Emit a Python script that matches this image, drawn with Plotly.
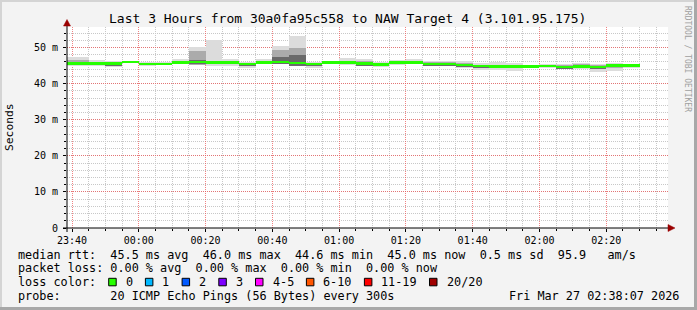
import plotly.graph_objects as go
import pandas as pd

# ---------------- data ----------------
step_end = pd.date_range("2026-03-26 23:40", "2026-03-27 02:30", freq="5min")  # 35 steps

median_ms = [45.6, 45.6, 45.6, 45.6, 46.0, 45.4, 45.4, 45.8, 45.9, 45.8, 45.8, 45.4,
             45.8, 46.0, 45.7, 45.4, 45.8, 45.8, 45.6, 45.3, 45.8, 45.8, 45.5, 45.5,
             45.1, 44.8, 44.7, 44.7, 44.7, 44.9, 44.6, 44.7, 44.6, 45.0, 45.0]
ping_max = [47.4, 47.4, 46.6, 46.3, 46.3, 46.1, 45.9, 46.8, 50.1, 52.2, 46.9, 45.9,
            46.8, 50.3, 53.1, 45.9, 46.2, 47.1, 46.9, 46.0, 46.6, 46.9, 46.2, 46.2,
            46.2, 45.7, 46.0, 45.7, 45.2, 45.4, 45.5, 45.6, 45.5, 45.6, 45.5]
ping_min = [45.0, 45.0, 45.0, 44.5, 45.7, 45.0, 45.1, 45.3, 45.3, 45.0, 45.0, 44.3,
            45.3, 45.4, 45.0, 44.3, 45.3, 45.2, 45.0, 44.7, 45.2, 45.3, 45.0, 44.9,
            44.2, 43.7, 43.9, 43.4, 44.3, 44.4, 44.0, 44.1, 43.2, 43.4, 44.3]
mid_hi = [46.6, 46.6, 46.1, 46.0, 46.1, 45.8, 45.6, 46.3, 48.9, 46.4, 46.3, 45.7,
          46.3, 49.2, 49.9, 45.7, 46.0, 46.3, 46.2, 45.7, 46.2, 46.3, 45.9, 45.9,
          45.6, 45.2, 45.2, 45.1, 45.0, 45.2, 45.1, 45.3, 45.1, 45.3, 45.3]
mid_lo = [45.3, 45.3, 45.3, 44.8, 45.8, 45.2, 45.2, 45.5, 45.2, 45.4, 45.4, 44.9,
          45.5, 45.6, 45.0, 44.9, 45.5, 45.5, 45.0, 45.0, 45.5, 45.5, 45.0, 45.0,
          44.7, 44.3, 44.2, 44.2, 44.5, 44.6, 44.1, 44.4, 44.0, 44.3, 44.7]
inner_hi = [45.8, 45.8, 45.8, 45.8, 46.1, 45.6, 45.5, 46.0, 46.6, 46.0, 46.0, 45.6,
            46.0, 47.5, 47.8, 45.6, 45.9, 46.0, 45.8, 45.5, 46.0, 46.0, 45.7, 45.7,
            45.3, 45.0, 44.9, 44.9, 44.8, 45.0, 44.8, 45.2, 44.8, 45.1, 45.1]
inner_lo = [45.3, 45.3, 45.4, 44.9, 45.8, 45.2, 45.2, 45.5, 45.3, 45.5, 45.5, 45.1,
            45.5, 45.5, 45.0, 45.1, 45.5, 45.5, 45.0, 45.1, 45.5, 45.5, 45.0, 45.0,
            44.8, 44.5, 44.2, 44.4, 44.4, 44.6, 44.1, 44.4, 44.3, 44.7, 44.7]

y_tickvals = [0, 10, 20, 30, 40, 50]
y_ticktext = ["0", "10 m", "20 m", "30 m", "40 m", "50 m"]

title_text = "Last 3 Hours from 30a0fa95c558 to NAW Target 4 (3.101.95.175)"
legend_rows = [
    "median rtt:  45.5 ms avg  46.0 ms max  44.6 ms min  45.0 ms now  0.5 ms sd  95.9   am/s",
    "packet loss: 0.00 % avg  0.00 % max  0.00 % min  0.00 % now",
    "loss color:",
    "probe:       20 ICMP Echo Pings (56 Bytes) every 300s",
]
date_stamp = "Fri Mar 27 02:38:07 2026"
loss_labels = ["0", "1", "2", "3", "4-5", "6-10", "11-19", "20/20"]
loss_colors = ["#26ff00", "#00b8ff", "#0059ff", "#7e00ff", "#ff00ff", "#ff5500", "#ff0000", "#a00000"]

# ---------------- layout geometry ----------------
W, H = 697, 310
PX0, PX1, PY0, PY1 = 67, 668, 27, 228
MONO = "DejaVu Sans Mono"


def px(x):
    return (x - PX0) / (PX1 - PX0)


def py(y):
    return (PY1 - y) / (PY1 - PY0)


x_centers = step_end - pd.Timedelta(seconds=150)
step_w = 300000

fig = go.Figure()


def band(lo, hi, color):
    fig.add_trace(go.Bar(
        x=x_centers, base=lo, y=[h - l for h, l in zip(hi, lo)], width=step_w,
        marker=dict(color=color, line=dict(width=0)), showlegend=False, hoverinfo="skip"))


band(ping_min, ping_max, "#dcdcdc")
band(mid_lo, mid_hi, "#ababab")
band(inner_lo, inner_hi, "#6a6a6a")
thick = 0.65
fig.add_trace(go.Bar(
    x=x_centers, base=[m - thick / 2 for m in median_ms], y=[thick] * len(median_ms), width=step_w,
    marker=dict(color=loss_colors[0], line=dict(width=0)), showlegend=False, hoverinfo="skip"))

ymax = (PY1 - PY0) / 3.61

fig.update_layout(
    width=W, height=H, barmode="overlay", bargap=0,
    margin=dict(l=PX0, r=W - PX1, t=PY0, b=H - PY1, pad=0),
    paper_bgcolor="#f3f3f3", plot_bgcolor="#ffffff",
    font=dict(family=MONO, size=10, color="#000000"),
    showlegend=False,
    xaxis=dict(
        type="date", range=["2026-03-26 23:38:30", "2026-03-27 02:38:30"],
        tick0="2026-03-26 23:40:00", dtick=1200000, tickformat="%H:%M",
        showgrid=True, gridcolor="rgba(235,90,90,0.75)", griddash="1px,1px", gridwidth=1,
        minor=dict(dtick=300000, showgrid=True, gridcolor="#c8c8c8", griddash="1px,1px",
                   ticks="outside", ticklen=2, tickcolor="#000"),
        ticks="outside", ticklen=3, tickcolor="#000", zeroline=False, showline=False,
        tickfont=dict(family=MONO, size=10, color="#000"), fixedrange=True,
    ),
    yaxis=dict(
        range=[0, ymax], tickvals=y_tickvals, ticktext=y_ticktext,
        showgrid=True, gridcolor="rgba(235,90,90,0.75)", griddash="1px,1px", gridwidth=1,
        minor=dict(dtick=2, showgrid=True, gridcolor="#c8c8c8", griddash="1px,1px",
                   ticks="outside", ticklen=2, tickcolor="#000"),
        ticks="outside", ticklen=3, tickcolor="#000", zeroline=False, showline=False,
        tickfont=dict(family=MONO, size=10, color="#000"), ticklabelstandoff=3,
    ),
)

shapes = []
# frame
shapes.append(dict(type="rect", xref="paper", yref="paper", x0=px(0), x1=px(W), y0=py(0), y1=py(2),
                   fillcolor="#d4d4d4", line=dict(width=0), layer="below"))
shapes.append(dict(type="rect", xref="paper", yref="paper", x0=px(0), x1=px(2), y0=py(0), y1=py(H),
                   fillcolor="#d4d4d4", line=dict(width=0), layer="below"))
shapes.append(dict(type="rect", xref="paper", yref="paper", x0=px(694), x1=px(W), y0=py(0), y1=py(H),
                   fillcolor="#a8a8a8", line=dict(width=0), layer="below"))
shapes.append(dict(type="rect", xref="paper", yref="paper", x0=px(0), x1=px(W), y0=py(307), y1=py(H),
                   fillcolor="#a8a8a8", line=dict(width=0), layer="below"))
# axes
shapes.append(dict(type="line", xref="paper", yref="paper", x0=px(63), x1=px(670), y0=py(228), y1=py(228),
                   line=dict(color="#000", width=1)))
shapes.append(dict(type="line", xref="paper", yref="paper", x0=px(67), x1=px(67), y0=py(232), y1=py(23),
                   line=dict(color="#000", width=1)))
shapes.append(dict(type="path", xref="paper", yref="paper",
                   path=f"M {px(668)} {py(224.5)} L {px(675)} {py(228)} L {px(668)} {py(231.5)} Z",
                   fillcolor="#9a0000", line=dict(color="#9a0000", width=0.5)))
shapes.append(dict(type="path", xref="paper", yref="paper",
                   path=f"M {px(63.5)} {py(26)} L {px(67)} {py(19.5)} L {px(70.5)} {py(26)} Z",
                   fillcolor="#9a0000", line=dict(color="#9a0000", width=0.5)))

ann = []
ann.append(dict(text=title_text.replace(" ", "\u00a0"), x=px(347), y=py(18.5), xanchor="center", yanchor="middle",
                font=dict(family=MONO, size=13, color="#000")))
ann.append(dict(text="Seconds", x=px(10), y=py(127), xanchor="center", yanchor="middle", textangle=-90,
                font=dict(family=MONO, size=11.3, color="#000")))
ann.append(dict(text="RRDTOOL\u00a0/\u00a0TOBI\u00a0OETIKER", x=px(688), y=py(59), xanchor="center", yanchor="middle",
                textangle=90, font=dict(family=MONO, size=8, color="#a0a0a0")))
row_y = [254.5, 268, 282, 295.5]
CW = 7.1
for txt, ry in zip(legend_rows, row_y):
    ann.append(dict(text=txt.replace(" ", "\u00a0"), x=px(16), y=py(ry), xanchor="left", yanchor="middle",
                    font=dict(family=MONO, size=11.8, color="#000")))
ann.append(dict(text=date_stamp.replace(" ", "\u00a0"), x=px(681), y=py(295.5), xanchor="right", yanchor="middle",
                font=dict(family=MONO, size=11.8, color="#000")))

bx = 108.7
for lab, col in zip(loss_labels, loss_colors):
    shapes.append(dict(type="rect", xref="paper", yref="paper", x0=px(bx), x1=px(bx + 7.5),
                       y0=py(278.3), y1=py(285.8), fillcolor=col, line=dict(color="#000", width=1)))
    lx = bx + 15
    ann.append(dict(text=lab, x=px(lx), y=py(282), xanchor="left", yanchor="middle",
                    font=dict(family=MONO, size=11.8, color="#000")))
    bx = lx + len(lab) * CW + 14.6

for a in ann:
    a.update(xref="paper", yref="paper", showarrow=False)
fig.update_layout(shapes=shapes, annotations=ann)

fig.write_html("out.html")
